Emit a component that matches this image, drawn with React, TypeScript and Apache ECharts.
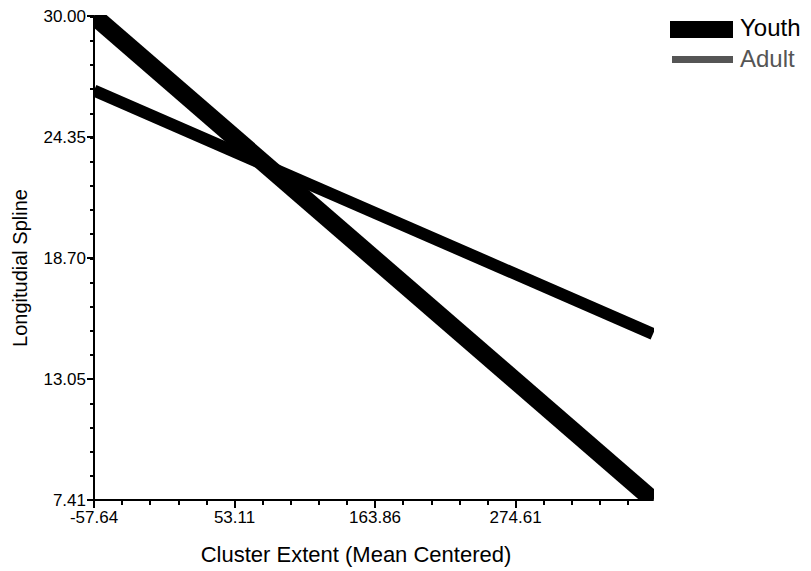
import React, { useEffect, useRef } from "react";
import * as echarts from "echarts";

const xMajorTicks = [-57.64, 53.11, 163.86, 274.61];
const yMajorTicks = [7.41, 13.05, 18.7, 24.35, 30.0];
const xRange = [-57.64, 382.9];
const yRange = [7.41, 30.0];
const youthPoints = [
  [-57.64, 30.0],
  [382.9, 7.41],
];
const adultPoints = [
  [-57.64, 26.52],
  [382.9, 15.16],
];

function minorTicks(majors: number[], lo: number, hi: number, parts: number) {
  const step = majors[1] - majors[0];
  const out: number[] = [];
  for (let i = -parts; ; i++) {
    const v = majors[0] + (i * step) / parts;
    if (v > hi + 1e-9) break;
    if (v >= lo - 1e-9) out.push(+v.toFixed(4));
  }
  return out;
}

const FONT = "Liberation Sans, Arial, sans-serif";
const GL = 94, GT = 16, GR = 158, GB = 71, W = 811, H = 571;

export default function App() {
  const ref = useRef<HTMLDivElement>(null);
  useEffect(() => {
    if (!ref.current) return;
    const chart = echarts.init(ref.current, null, { renderer: "svg" });
    const xMinor = minorTicks(xMajorTicks, xRange[0], xRange[1], 5);
    const yMinor = minorTicks(yMajorTicks, yRange[0], yRange[1], 5);
    const mkLine = () => ({ show: true, onZero: false, lineStyle: { color: "#000", width: 2 } });
    const noLine = () => ({ show: false, onZero: false });
    const maskStyle = { fill: "#fff" };
    chart.setOption({
      animation: false,
      backgroundColor: "#fff",
      grid: { left: GL, top: GT, right: GR, bottom: GB, containLabel: false },
      xAxis: [
        {
          type: "value",
          min: xRange[0],
          max: xRange[1],
          z: 5,
          axisLine: mkLine(),
          splitLine: { show: false },
          axisTick: { show: true, customValues: xMajorTicks, length: 8, lineStyle: { color: "#000", width: 2 } },
          axisLabel: {
            customValues: xMajorTicks,
            formatter: (v: number) => v.toFixed(2),
            color: "#000",
            fontSize: 17,
            fontFamily: FONT,
            margin: 9,
            showMinLabel: true,
            showMaxLabel: true,
          },
        },
        {
          type: "value",
          position: "bottom",
          min: xRange[0],
          max: xRange[1],
          z: 5,
          axisLine: noLine(),
          splitLine: { show: false },
          axisTick: { show: true, customValues: xMinor, length: 5, lineStyle: { color: "#000", width: 2 } },
          axisLabel: { show: false },
        },
      ],
      yAxis: [
        {
          type: "value",
          min: yRange[0],
          max: yRange[1],
          z: 5,
          axisLine: mkLine(),
          splitLine: { show: false },
          axisTick: { show: true, customValues: yMajorTicks, length: 7, lineStyle: { color: "#000", width: 2 } },
          axisLabel: {
            customValues: yMajorTicks,
            formatter: (v: number) => v.toFixed(2),
            color: "#000",
            fontSize: 17,
            fontFamily: FONT,
            margin: 8,
            showMinLabel: true,
            showMaxLabel: true,
          },
        },
        {
          type: "value",
          position: "left",
          min: yRange[0],
          max: yRange[1],
          z: 5,
          axisLine: noLine(),
          splitLine: { show: false },
          axisTick: { show: true, customValues: yMinor, length: 4, lineStyle: { color: "#000", width: 2 } },
          axisLabel: { show: false },
        },
      ],
      series: [
        {
          name: "Adult",
          type: "line",
          data: adultPoints,
          symbol: "none",
          lineStyle: { color: "#000", width: 12, cap: "butt" },
          z: 1,
        },
        {
          name: "Youth",
          type: "line",
          data: youthPoints,
          symbol: "none",
          lineStyle: { color: "#000", width: 18, cap: "butt" },
          z: 1,
        },
      ],
      graphic: [
        { type: "rect", z: 3, silent: true, shape: { x: 0, y: 0, width: GL - 1, height: H }, style: maskStyle },
        { type: "rect", z: 3, silent: true, shape: { x: 0, y: 0, width: W, height: GT - 1 }, style: maskStyle },
        { type: "rect", z: 3, silent: true, shape: { x: W - GR + 1, y: 0, width: GR, height: H }, style: maskStyle },
        { type: "rect", z: 3, silent: true, shape: { x: 0, y: H - GB + 1, width: W, height: GB }, style: maskStyle },
        { type: "rect", z: 10, left: 670, top: 21, shape: { width: 63, height: 17 }, style: { fill: "#000" } },
        {
          type: "text",
          z: 10,
          left: 740,
          top: 15,
          style: { text: "Youth", fill: "#000", font: `24px ${FONT}` },
        },
        { type: "rect", z: 10, left: 672, top: 56, shape: { width: 61, height: 7 }, style: { fill: "#555" } },
        {
          type: "text",
          z: 10,
          left: 740,
          top: 46,
          style: { text: "Adult", fill: "#555", font: `24px ${FONT}` },
        },
        {
          type: "text",
          z: 10,
          x: 356,
          y: 554,
          style: {
            text: "Cluster Extent (Mean Centered)",
            fill: "#000",
            font: `22px ${FONT}`,
            align: "center",
            verticalAlign: "middle",
          },
        },
        {
          type: "text",
          z: 10,
          x: 20,
          y: 268,
          rotation: Math.PI / 2,
          style: {
            text: "Longitudial Spline",
            fill: "#000",
            font: `20px ${FONT}`,
            align: "center",
            verticalAlign: "middle",
          },
        },
      ],
    });
    return () => chart.dispose();
  }, []);
  return <div ref={ref} style={{ position: "fixed", left: 0, top: 0, width: W, height: H }} />;
}
